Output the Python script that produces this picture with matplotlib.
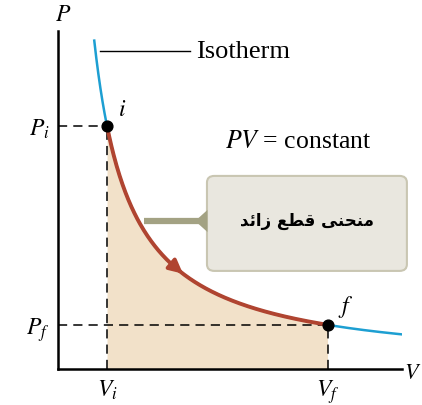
import numpy as np
from matplotlib import pyplot as plt
from matplotlib.patches import FancyBboxPatch, Polygon

plt.rcParams['mathtext.fontset'] = 'stix'
plt.rcParams['font.family'] = ['Liberation Serif', 'DejaVu Serif']

# state points on the isotherm
V_i, P_i = 1.0, 5.5
V_f, P_f = 5.5, 1.0
const = V_i * P_i

tick_v = [V_i, V_f]
tick_v_labels = [r'$V_i$', r'$V_f$']
tick_p = [P_i, P_f]
tick_p_labels = [r'$P_i$', r'$P_f$']

blue = '#1d9fd2'
red = '#b04430'
fill_c = '#f2e1c9'

fig = plt.figure(figsize=(4.22, 4.06), dpi=100)
ax = fig.add_axes([58 / 422, 36 / 406, 344 / 422, 338 / 406])
ax.set_xlim(0, 7.02)
ax.set_ylim(0, 7.65)

for s in ['top', 'right']:
    ax.spines[s].set_visible(False)
for s in ['left', 'bottom']:
    ax.spines[s].set_linewidth(1.8)

ax.set_xticks(tick_v)
ax.set_xticklabels(tick_v_labels, fontsize=17)
ax.set_yticks(tick_p)
ax.set_yticklabels(tick_p_labels, fontsize=17)
ax.tick_params(length=0, pad=6)

# full isotherm
v_all = np.linspace(0.74, 7.02, 300)
ax.plot(v_all, const / v_all, color=blue, lw=1.8, zorder=2)

# process path i -> f and work area beneath it
v_path = np.linspace(V_i, V_f, 300)
p_path = const / v_path
ax.fill_between(v_path, 0, p_path, color=fill_c, lw=0, zorder=1)
ax.plot(v_path, p_path, color=red, lw=2.8, zorder=3, solid_capstyle='round')

# arrowhead along the path
va, vb = 2.3, 2.55
ax.annotate('', xy=(vb, const / vb), xytext=(va, const / va),
            arrowprops=dict(arrowstyle='-|>,head_length=0.8,head_width=0.4',
                            color=red, lw=2.8, shrinkA=0, shrinkB=0),
            zorder=4)

# dashed guides
dash = (0, (6, 4))
ax.plot([0, V_i], [P_i, P_i], color='black', lw=1.1, ls=dash, zorder=2)
ax.plot([V_i, V_i], [0, P_i], color='black', lw=1.1, ls=dash, zorder=2)
ax.plot([0, V_f], [P_f, P_f], color='black', lw=1.1, ls=dash, zorder=2)
ax.plot([V_f, V_f], [0, P_f], color='black', lw=1.1, ls=dash, zorder=2)

ax.scatter([V_i, V_f], [P_i, P_f], s=60, color='black', zorder=5)
ax.text(V_i + 0.22, P_i + 0.25, r'$i$', fontsize=17)
ax.text(V_f + 0.22, P_f + 0.3, r'$f$', fontsize=17)

# labels
ax.text(0.1, 7.9, r'$P$', fontsize=17, ha='center', clip_on=False)
fig.text(404 / 422, 1 - 375 / 406, r'$V$', fontsize=16, va='center')

ax.plot([0.86, 2.7], [7.2, 7.2], color='black', lw=1.0)
ax.text(2.82, 7.2, 'Isotherm', fontsize=19, va='center')
ax.text(3.4, 5.15, r'$PV$' + ' = constant', fontsize=18.5, va='center')

# callout box
box = FancyBboxPatch((3.04, 2.22), 4.08, 2.15,
                     boxstyle='round,pad=0,rounding_size=0.15',
                     fc='#e9e7df', ec='#c9c6b2', lw=1.5, clip_on=False, zorder=6)
ax.add_patch(box)
ax.plot([1.75, 3.04], [3.35, 3.35], color='#a3a283', lw=4.5,
        solid_capstyle='butt', zorder=6)
ax.add_patch(Polygon([[2.8, 3.35], [3.05, 3.6], [3.05, 3.1]],
                     closed=True, fc='#a3a283', ec='none', zorder=6))
ax.text(5.08, 3.38,
        '\uFEAA\uFE8B\uFE8D\uFEAF \uFECA\uFEC4\uFED7 \uFEF0\uFEE8\uFEA4\uFEE8\uFEE3',
        family=['DejaVu Sans'], fontweight='bold', fontsize=12,
        ha='center', va='center', zorder=7)

fig.savefig('out.png', dpi=100)
